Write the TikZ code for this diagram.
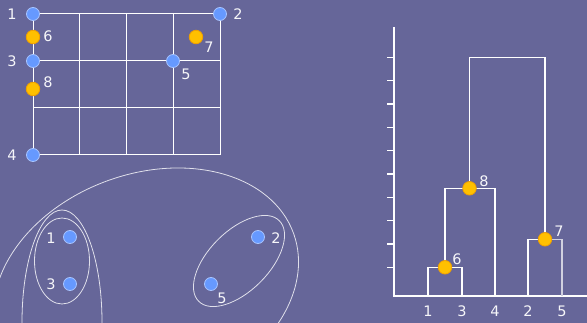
\documentclass[tikz,border=0pt]{standalone}
\usepackage{fontspec}
\setmainfont{DejaVu Sans}
\definecolor{bg}{HTML}{666699}
\definecolor{bluept}{HTML}{6699FF}
\definecolor{bluebd}{HTML}{A8C4FF}
\definecolor{yelpt}{HTML}{FFC000}
\definecolor{yelbd}{HTML}{F0A000}
\begin{document}
\begin{tikzpicture}[x=1pt,y=-1pt,
  bpt/.style={circle,fill=bluept,draw=bluebd,line width=0.8pt,minimum size=13pt,inner sep=0pt},
  ypt/.style={circle,fill=yelpt,draw=yelbd,line width=0.8pt,minimum size=13.5pt,inner sep=0pt},
  lbl/.style={text=white!94!bg,font=\fontsize{14.5}{15}\selectfont,inner sep=0pt},
  gridline/.style={white,line width=1pt},
  hull/.style={white!80!bg,line width=0.8pt},
  dend/.style={white,line width=1.2pt},
  dendg/.style={white!70!bg,line width=1.2pt}]
\fill[bg] (0,0) rectangle (587,323);
\useasboundingbox (0,0) rectangle (587,323);
\clip (0,0) rectangle (587,323);

% ---------- grid ----------
\foreach \x in {33,79,126,173,220} \draw[gridline] (\x,14) -- (\x,155);
\foreach \y in {14,61,108,155} \draw[gridline] (33,\y) -- (220,\y);

\node[bpt] (g1) at (33,14) {};
\node[bpt] (g2) at (220,14) {};
\node[bpt] (g3) at (33,61) {};
\node[bpt] (g4) at (33,155) {};
\node[bpt] (g5) at (173,61) {};
\node[ypt] (g6) at (33,37) {};
\node[ypt] (g7) at (196,37) {};
\node[ypt] (g8) at (33,89) {};
\node[lbl] (lg1) at (12,14) {1};
\node[lbl] (lg2) at (238,14) {2};
\node[lbl] (lg3) at (12,61) {3};
\node[lbl] (lg4) at (12,155) {4};
\node[lbl] (lg5) at (186,74) {5};
\node[lbl] (lg6) at (48,36) {6};
\node[lbl] (lg7) at (209,47) {7};
\node[lbl] (lg8) at (48,82) {8};

% ---------- cluster ellipses ----------
\draw[hull,rotate around={20:(146,287)}] (146,287) ellipse [x radius=157, y radius=113];
\draw[hull] (62,322) ellipse [x radius=40, y radius=112];
\draw[hull] (62,261) ellipse [x radius=27.5, y radius=43];
\draw[hull,rotate around={45:(239,261)}] (239,261) ellipse [x radius=57, y radius=30];

\node[bpt] (c1) at (70,237) {};
\node[bpt] (c3) at (70,284) {};
\node[bpt] (c2) at (258,237) {};
\node[bpt] (c5) at (211,284) {};
\node[lbl] (lc1) at (51,238) {1};
\node[lbl] (lc3) at (51,284) {3};
\node[lbl] (lc2) at (276,238) {2};
\node[lbl] (lc5) at (222,298) {5};

% ---------- dendrogram ----------
\draw[dend] (394,27) -- (394,296) -- (587,296);
\foreach \i in {0,...,9} \draw[dend] (387,57.3+23.33*\i) -- (394,57.3+23.33*\i);

\coordinate (d1) at (428,296);
\coordinate (d3) at (462,296);
\coordinate (d4) at (495,296);
\coordinate (d2) at (528,296);
\coordinate (d5) at (562,296);
\coordinate (m6) at (445,267.3);
\coordinate (m8) at (469.5,188.3);
\coordinate (m7) at (545,239.3);
\coordinate (top) at (507,57.3);

\draw[dend] (d1) |- (m6) -| (d3);
\draw[dend] (m6) |- (m8) -| (d4);
\draw[dend] (d2) |- (m7);
\draw[dendg] (m7) -| (d5);
\draw[dend] (m8) |- (top) -| (m7);

\node[ypt] (n6) at (m6) {};
\node[ypt] (n8) at (m8) {};
\node[ypt] (n7) at (m7) {};
\node[lbl] (ln6) at (457,259) {6};
\node[lbl] (ln8) at (484,181) {8};
\node[lbl] (ln7) at (559,231) {7};
\node[lbl] (ld1) at (428,311) {1};
\node[lbl] (ld3) at (462,311) {3};
\node[lbl] (ld4) at (495,311) {4};
\node[lbl] (ld2) at (528,311) {2};
\node[lbl] (ld5) at (562,311) {5};
\end{tikzpicture}
\end{document}
